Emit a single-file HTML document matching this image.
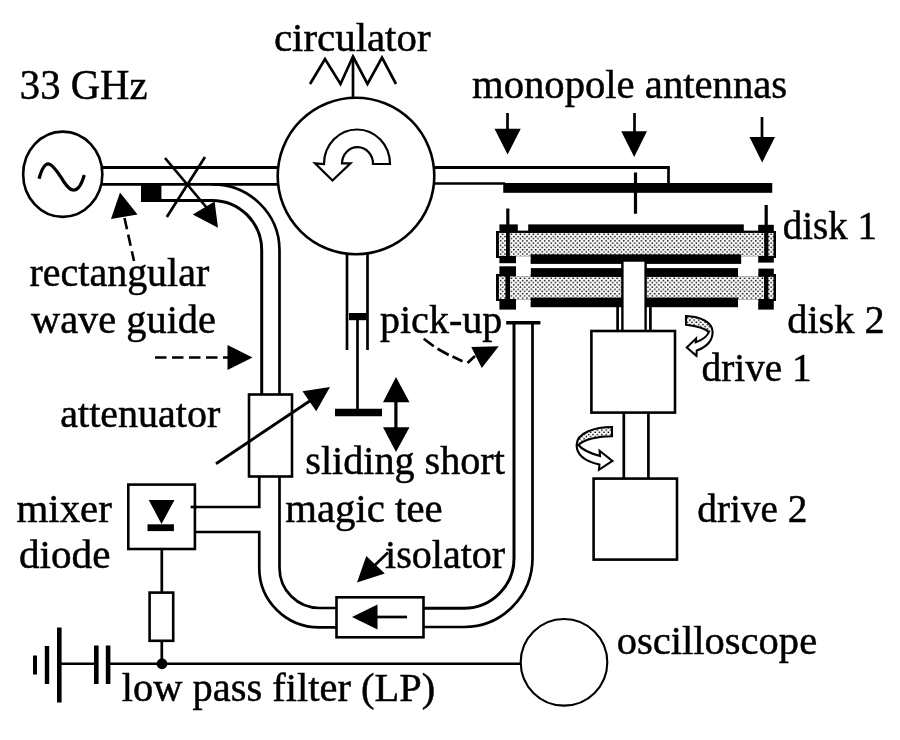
<!DOCTYPE html>
<html>
<head>
<meta charset="utf-8">
<title>Microwave setup diagram</title>
<style>
  html, body { margin: 0; padding: 0; background: #ffffff; }
  body { width: 900px; height: 740px; overflow: hidden; }
  svg { display: block; filter: grayscale(100%); }
  text { font-family: "Liberation Serif", serif; font-size: 40.6px; fill: #000; stroke: #000; stroke-width: 0.5px; }
  .l  { fill: none; stroke: #000; stroke-width: 2.7; }
  .l3 { fill: none; stroke: #000; stroke-width: 3.2; }
  .w  { fill: #fff; stroke: #000; stroke-width: 2.6; }
  .k  { fill: #000; stroke: none; }
  .d  { fill: none; stroke: #000; stroke-width: 2.6; stroke-dasharray: 11.5 5.5; }
</style>
</head>
<body>
<svg width="900" height="740" viewBox="0 0 900 740">
  <defs>
    <pattern id="dots" x="0" y="0" width="4.4" height="4.4" patternUnits="userSpaceOnUse">
      <rect x="0" y="0" width="4.4" height="4.4" fill="#fff"/>
      <rect x="0.4" y="0.4" width="1.5" height="1.4" fill="#000"/>
      <rect x="2.6" y="2.6" width="1.5" height="1.4" fill="#000"/>
    </pattern>
  </defs>
  <rect x="0" y="0" width="900" height="740" fill="#fff"/>

  <!-- ===== TEXT LABELS ===== -->
  <g id="labels">
    <text transform="translate(19.80,98.70) scale(0.955,1)" style="font-size:42.6px">33 GHz</text>
    <text transform="translate(273.99,50.70) scale(1.0065,1)">circulator</text>
    <text transform="translate(472.00,97.70) scale(1.0024,1)">monopole antennas</text>
    <text transform="translate(782.79,239.45) scale(0.9605,1)">disk 1</text>
    <text transform="translate(787.26,333.20) scale(0.9921,1)">disk 2</text>
    <text transform="translate(701.53,380.70) scale(0.9685,1)">drive 1</text>
    <text transform="translate(697.28,521.95) scale(0.9685,1)">drive 2</text>
    <text transform="translate(29.50,285.70) scale(0.9849,1)">rectangular</text>
    <text transform="translate(31.00,333.20) scale(0.9946,1)">wave guide</text>
    <text transform="translate(380.00,332.70) scale(0.9858,1)">pick-up</text>
    <text transform="translate(60.26,426.95) scale(0.9860,1)">attenuator</text>
    <text transform="translate(305.26,474.20) scale(0.9888,1)">sliding short</text>
    <text transform="translate(16.51,521.95) scale(1.0070,1)">mixer</text>
    <text transform="translate(285.25,521.95) scale(1.0049,1)">magic tee</text>
    <text transform="translate(18.99,568.20) scale(1.0142,1)">diode</text>
    <text transform="translate(385.01,568.20) scale(0.9876,1)">isolator</text>
    <text transform="translate(616.75,654.40) scale(0.9987,1)">oscilloscope</text>
    <text transform="translate(121.75,700.70) scale(0.9968,1)">low pass filter (LP)</text>
  </g>

  <!-- SECTION: source -->
  <g id="source">
    <ellipse class="w" cx="62.75" cy="174.25" rx="39.6" ry="42.6"/>
    <path class="l3" d="M39,178.7 C42,168 45,163.5 48.5,163.8 C54,164.5 60,176 64,182 C68,188 71,190.5 74.5,190 C79,189.5 82,183 84.3,175"/>
  </g>
  <!-- SECTION: waveguides -->
  <g id="waveguides">
    <!-- top guide: source -> circulator -->
    <line class="l3" x1="102" y1="167.5" x2="278" y2="167.5"/>
    <line class="l"  x1="102" y1="184.3" x2="278" y2="184.3"/>
    <!-- coupled guide bending down to attenuator -->
    <path class="l" d="M212,184.3 A67,66 0 0 1 279.5,250 L279.5,394"/>
    <path class="l" style="stroke-width:3" d="M141,200.4 L212,200.4 A49.7,49.6 0 0 1 261.7,250 L261.7,394"/>
    <rect class="k" x="141" y="185" width="20.4" height="16.6"/>
    <!-- circulator -> antenna guide -->
    <path class="l3" d="M434,167.5 L668.5,167.5"/>
    <path class="l" d="M668.5,166 L668.5,184"/>
    <line class="l" x1="434" y1="183.5" x2="505" y2="183.5"/>
    <rect class="k" x="503.25" y="183" width="269" height="9.8"/>
    <!-- circulator stub (sliding short) -->
    <line class="l" x1="347" y1="253" x2="347" y2="350"/>
    <line class="l" x1="367.5" y1="253" x2="367.5" y2="350"/>
    <rect class="k" x="349" y="313" width="17.5" height="7.2"/>
    <line class="l" x1="357.5" y1="320" x2="357.5" y2="410"/>
    <rect class="k" x="335" y="408.75" width="47" height="7.5"/>
    <!-- attenuator -->
    <rect class="w" x="249" y="394.5" width="43" height="82"/>
    <!-- magic tee -->
    <path class="l" d="M259.25,477 L259.25,507 L191,507"/>
    <path class="l" d="M196,532 L259.25,532 L259.25,568 A60,59.4 0 0 0 319.25,627.4 L337,627.4"/>
    <path class="l" d="M279.5,477 L279.5,568 A40,40 0 0 0 319.5,608 L337,608"/>
    <!-- isolator -->
    <rect class="w" x="336.5" y="597.3" width="87" height="40"/>
    <line class="l" x1="377" y1="617" x2="407" y2="617"/>
    <path class="k" d="M352,617 L377.5,604.5 L377.5,629.5 Z"/>
    <!-- isolator -> pick-up -->
    <path class="l" style="stroke-width:3" d="M423.5,608.2 L464,608.2 A50,50 0 0 0 514,558 L514,322.5"/>
    <path class="l" d="M423.5,627 L464,627 A68.5,69 0 0 0 532.5,558 L532.5,322.5"/>
    <line class="l3" style="stroke-width:3.5" x1="506.2" y1="322.8" x2="540.4" y2="322.8"/>
  </g>
  <!-- SECTION: circulator -->
  <g id="circulator">
    <circle class="w" cx="356" cy="176" r="78.3"/>
    <path class="l" d="M310,84 L325,59 L340.5,84 L353,56.5 L367.5,84 L382,57.5 L396,84"/>
    <line class="l" x1="353" y1="56.5" x2="353" y2="98"/>
    <path class="w" style="stroke-width:2.2" d="M390,164 A33,34.5 0 0 0 324,164 L315,163.3 L332.5,180.5 L350.5,163.3 L342,163.3 A15.5,16.5 0 0 1 373,164 Z"/>
  </g>
  <!-- SECTION: disks -->
  <g id="disks">
    <!-- antennas (thin wires) -->
    <line class="l3" x1="635.5" y1="172.5" x2="635.5" y2="213.75"/>
    <line class="l3" x1="507.8" y1="208.5" x2="507.8" y2="226"/>
    <line class="l3" x1="766.2" y1="205" x2="766.2" y2="226"/>

    <!-- disk 1 -->
    <rect x="496" y="231" width="280" height="27" fill="#000"/>
    <rect x="498.9" y="232.9" width="274.6" height="23.1" fill="url(#dots)"/>
    <rect class="k" x="499.4" y="224.4" width="18.4" height="8"/>
    <rect class="k" x="758.2" y="224.8" width="15.6" height="8"/>
    <rect class="k" x="528.2" y="224.4" width="215.6" height="8.6"/>
    <rect class="k" x="517" y="230.6" width="12" height="1.6"/>
    <rect class="k" x="743" y="230.6" width="16" height="1.6"/>
    <rect class="k" x="530.6" y="254.3" width="210.6" height="9.6"/>
    <rect class="k" x="499.4" y="256" width="16.6" height="7.2"/>
    <rect class="k" x="758.2" y="256" width="15.6" height="6.6"/>
    <rect x="516" y="256.2" width="14.6" height="3" fill="#fff"/>
    <rect x="741.2" y="256.2" width="17" height="3" fill="#fff"/>
    <rect class="k" x="506" y="226" width="3.8" height="31"/>
    <rect class="k" x="764.2" y="226" width="4.2" height="31"/>

    <!-- disk 2 -->
    <rect x="496" y="274" width="280" height="27" fill="#000"/>
    <rect x="498.9" y="276.4" width="274.6" height="22.6" fill="url(#dots)"/>
    <rect class="k" x="499.4" y="266.3" width="16.6" height="9"/>
    <rect class="k" x="758.2" y="268.6" width="15.6" height="8"/>
    <rect class="k" x="530.6" y="268.1" width="207.4" height="8.8"/>
    <rect x="516" y="266" width="14.6" height="10.4" fill="#fff"/>
    <rect x="738" y="266" width="20.2" height="10.4" fill="#fff"/>
    <rect class="k" x="530.6" y="297.6" width="207.4" height="9.6"/>
    <rect class="k" x="499.4" y="299" width="16.6" height="10.6"/>
    <rect class="k" x="758.2" y="299" width="15.6" height="10.6"/>
    <rect x="516" y="299.3" width="14.6" height="3" fill="#fff"/>
    <rect x="738" y="299.3" width="20.2" height="3" fill="#fff"/>
    <rect class="k" x="505.4" y="275" width="4.6" height="26"/>
    <rect class="k" x="764" y="275" width="4.4" height="26"/>
  </g>
  <!-- SECTION: drives -->
  <g id="drives">
    <!-- outer hollow shaft below disk 2 -->
    <line class="l" x1="617.6" y1="306" x2="617.6" y2="331"/>
    <line class="l" x1="650.4" y1="306" x2="650.4" y2="331"/>
    <!-- inner shaft through disk 2 -->
    <path class="w" style="stroke-width:2.4" d="M622.4,331 L622.4,260.6 L645.6,260.6 L645.6,331"/>
    <!-- drive 1 -->
    <rect class="w" x="591.4" y="331" width="83.6" height="81.6"/>
    <!-- shaft to drive 2 -->
    <line class="l" x1="623.8" y1="413" x2="623.8" y2="478"/>
    <line class="l" x1="648.4" y1="413" x2="648.4" y2="478"/>
    <!-- drive 2 -->
    <rect class="w" x="593.6" y="478.6" width="83.4" height="81"/>
  </g>
  <!-- SECTION: lowerleft -->
  <g id="lowerleft">
    <!-- mixer diode box -->
    <rect class="w" x="128.3" y="484.6" width="66.6" height="64.4" style="stroke-width:2.6"/>
    <line class="l" x1="190.6" y1="507" x2="197" y2="507"/>
    <path class="k" d="M148.75,500 L174.5,500 L161.5,524 Z"/>
    <rect class="k" x="147.5" y="524.3" width="26.4" height="6.8"/>
    <!-- resistor -->
    <line class="l" x1="161.8" y1="550" x2="161.8" y2="592"/>
    <rect class="w" x="149.6" y="592.6" width="23.6" height="48.2"/>
    <line class="l" x1="161.8" y1="641.5" x2="161.8" y2="663"/>
    <circle class="k" cx="162" cy="663.75" r="5.4"/>
    <!-- output line to oscilloscope -->
    <line class="l" x1="60" y1="663.75" x2="94.5" y2="663.75"/>
    <line class="l" x1="108" y1="663.75" x2="522" y2="663.75"/>
    <!-- ground -->
    <rect class="k" x="57" y="627.5" width="4.6" height="75"/>
    <rect class="k" x="44.8" y="646" width="4.4" height="38"/>
    <rect class="k" x="33" y="655.5" width="4" height="19"/>
    <!-- capacitor -->
    <rect class="k" x="94" y="645.5" width="4.6" height="38.5"/>
    <rect class="k" x="105.8" y="645.5" width="4.6" height="38.5"/>
    <!-- oscilloscope -->
    <circle class="w" style="stroke-width:2.1" cx="564" cy="662.3" r="43.3"/>
  </g>
  <!-- SECTION: arrows -->
  <g id="arrows">
    <!-- monopole antenna pointers -->
    <line class="l" x1="507.5" y1="113" x2="507.5" y2="130"/>
    <path class="k" d="M494.5,128.75 L520.75,128.75 L507.6,154.5 Z"/>
    <line class="l" x1="634.5" y1="113" x2="634.5" y2="133"/>
    <path class="k" d="M621.25,131.25 L647,131.25 L634.2,157 Z"/>
    <line class="l" x1="762" y1="117" x2="762" y2="138"/>
    <path class="k" d="M749.5,137 L775,137 L762.2,162.5 Z"/>

    <!-- crossed coupler -->
    <line class="l" x1="165" y1="158" x2="207" y2="208"/>
    <line class="l" x1="205" y1="157" x2="166.8" y2="217"/>
    <path class="k" d="M192.8,214.6 L214.6,201.6 L218,227.8 Z"/>

    <!-- dashed pointer: rectangular wave guide -> top guide -->
    <path class="d" d="M124.5,218 L134,261"/>
    <path class="k" d="M120,192.5 L111,219 L137.5,214.5 Z"/>
    <!-- dashed pointer: wave guide -> vertical guide -->
    <path class="d" d="M155,357.5 L230,357.5"/>
    <path class="k" d="M252.5,357.5 L227.5,345 L227.5,370 Z"/>
    <!-- dashed pointer: pick-up -->
    <path class="l" d="M423.75,338.75 L433.75,346.25 M437.5,348.75 L448.75,355 M452.5,356.5 L462.5,361.25 M467.5,363 L475,356"/>
    <path class="k" d="M498.75,346.25 L471.25,347 L481.75,368 Z"/>

    <!-- attenuator variable arrow -->
    <line class="l" style="stroke-width:2.9" x1="216" y1="463.8" x2="312" y2="399.5"/>
    <path class="k" d="M330,387 L302.5,391.25 L316.25,411.25 Z"/>

    <!-- sliding short double arrow -->
    <line class="l3" x1="395.9" y1="400" x2="395.9" y2="430"/>
    <path class="k" d="M396,377 L383,402.3 L409.5,402.3 Z"/>
    <path class="k" d="M396,452 L383,427.3 L409.5,427.3 Z"/>

    <!-- isolator pointer -->
    <line class="l" x1="388" y1="552.5" x2="374" y2="566"/>
    <path class="k" d="M357,582.5 L366.3,556 L384.8,573.4 Z"/>

    <!-- rotation arrow, drive 1 -->
    <path d="M686,316 C700,316.5 712.6,322 712.6,332 L708.8,332 C705,328.4 696,326 686,324.8 Z" fill="url(#dots)"/>
    <path class="l" style="stroke-width:2.1" d="M686,316 C700,316.5 712.6,322 712.6,332 C712.6,341.5 705,347.5 696.8,350.6 L696.4,355.8 L686.8,347.5 L696,338.6 L695.8,342.2 C702,340 707.5,336 708.8,332 C705,328.4 696,326 686,324.8 Z"/>

    <!-- rotation arrow, drive 2 -->
    <path d="M612,427 C596,427 576.6,432.4 576.6,445 L578.4,445 C584,439.4 598,436.2 612,436.2 Z" fill="url(#dots)"/>
    <path class="l" style="stroke-width:2.1" d="M612,427 C596,427 576.6,432.4 576.6,445 C576.6,456.6 588,462 599.4,464.6 L599,469.8 L612.4,461 L599.6,450.8 L600,456 C591,453.5 582.4,450 578.4,445 C584,439.4 598,436.2 612,436.2 Z"/>
  </g>
</svg>
</body>
</html>
